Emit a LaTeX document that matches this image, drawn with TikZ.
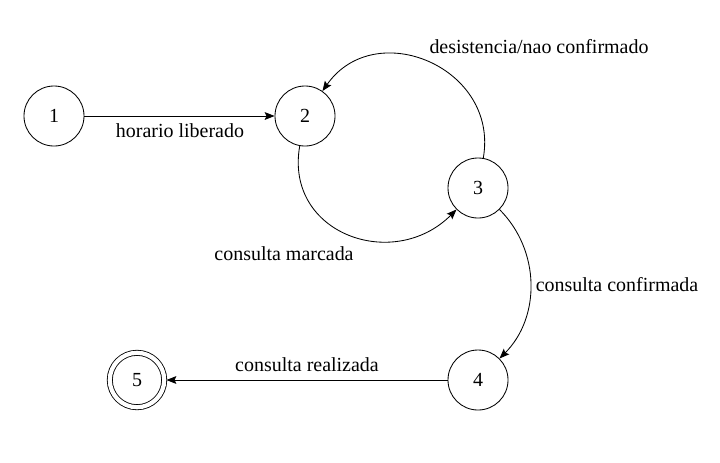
\documentclass[tikz,border=0pt]{standalone}
\usepackage{fontspec}
\setmainfont{Liberation Serif}
\usetikzlibrary{arrows.meta, positioning}

\begin{document}
\begin{tikzpicture}[
    x=0.025cm, y=-0.025cm,
    font=\fontsize{14.2}{16}\selectfont,
    state/.style={circle, draw, line width=0.6pt, minimum size=1.5cm, inner sep=0pt},
    final/.style={state, double, double distance=3pt, minimum size=1.36cm, outer sep=1.6pt},
    arrow/.style={-{Stealth[length=7pt, width=5.5pt, inset=1.2pt]}, line width=0.6pt},
    lbl/.style={inner sep=1pt}
]
\useasboundingbox (0,0) rectangle (720,462);

\node[state] (s1) at (54,116) {1};
\node[state] (s2) at (305,116) {2};
\node[state] (s3) at (478,188) {3};
\node[state] (s4) at (478,380) {4};
\node[final] (s5) at (137,380) {5};

\draw[arrow] (s1)--(s2);
\draw[arrow] (s2) to[out=-100, in=-135, looseness=1.35] (s3);
\draw[arrow] (s3) to[out=80, in=55, looseness=1.35] (s2);
\draw[arrow] (s3) to[out=-45, in=45] (s4);
\draw[arrow] (s4)--(s5);

\node[lbl] (l12) at (180,131) {horario liberado};
\node[lbl] (l23) at (284,254) {consulta marcada};
\node[lbl] (l32) at (539,47) {desistencia/nao confirmado};
\node[lbl] (l34) at (617,285) {consulta confirmada};
\node[lbl] (l45) at (307,365) {consulta realizada};
\end{tikzpicture}
\end{document}
